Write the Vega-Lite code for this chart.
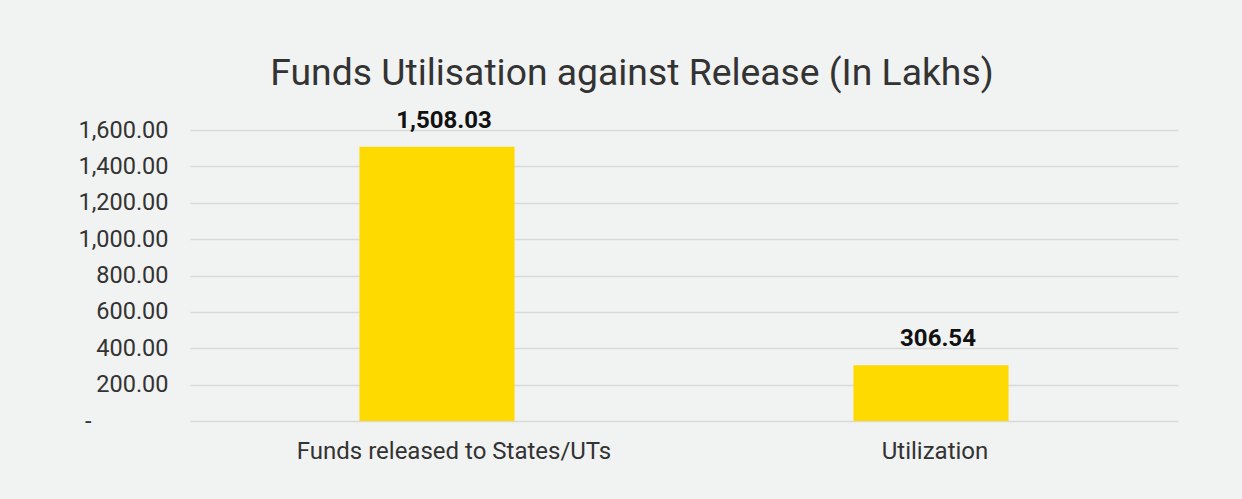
{
  "$schema": "https://vega.github.io/schema/vega-lite/v6.json",
  "width": 988,
  "height": 291,
  "autosize": {"type": "none"},
  "padding": {"left": 190, "top": 130, "right": 64, "bottom": 78},
  "background": "#F1F2F2",
  "title": {
    "text": "Funds Utilisation against Release (In Lakhs)",
    "font": "Roboto",
    "fontSize": 37.3,
    "fontWeight": "normal",
    "color": "#333333",
    "anchor": "middle",
    "dx": -52,
    "offset": 15
  },
  "data": {
    "values": [
      {"category": "Funds released to States/UTs", "amount": 1508.03},
      {"category": "Utilization", "amount": 306.54}
    ]
  },
  "config": {
    "view": {"stroke": null},
    "axis": {"labelFont": "Roboto", "labelColor": "#333333", "labelFontSize": 23.5, "labelLimit": 600}
  },
  "encoding": {
    "x": {
      "field": "category",
      "type": "nominal",
      "sort": null,
      "scale": {"paddingInner": 0.686, "paddingOuter": 0.343},
      "axis": {
        "title": null,
        "labelAngle": 0,
        "ticks": false,
        "domain": false,
        "labelPadding": 18,
        "labelFontSize": 24,
        "labelOffset": {"condition": {"test": "datum.value == 'Utilization'", "value": 4}, "value": 17},
        "grid": false
      }
    },
    "y": {
      "field": "amount",
      "type": "quantitative",
      "scale": {"domain": [0, 1600], "nice": false},
      "axis": {
        "title": null,
        "values": [0, 200, 400, 600, 800, 1000, 1200, 1400, 1600],
        "labelExpr": "datum.value == 0 ? '-' : format(datum.value, ',.2f')",
        "ticks": false,
        "domain": false,
        "labelPadding": {"condition": {"test": "datum.value == 0", "value": 99}, "value": 22},
        "gridColor": "#D9D9D9",
        "gridWidth": 1.5
      }
    }
  },
  "layer": [
    {"mark": {"type": "bar", "color": "#FFDA00"}},
    {
      "mark": {"type": "text", "font": "Roboto", "fontSize": 24, "fontWeight": "bold", "color": "#111111", "baseline": "alphabetic", "dy": -19, "dx": 7},
      "encoding": {"text": {"field": "amount", "type": "quantitative", "format": ",.2f"}}
    }
  ]
}
